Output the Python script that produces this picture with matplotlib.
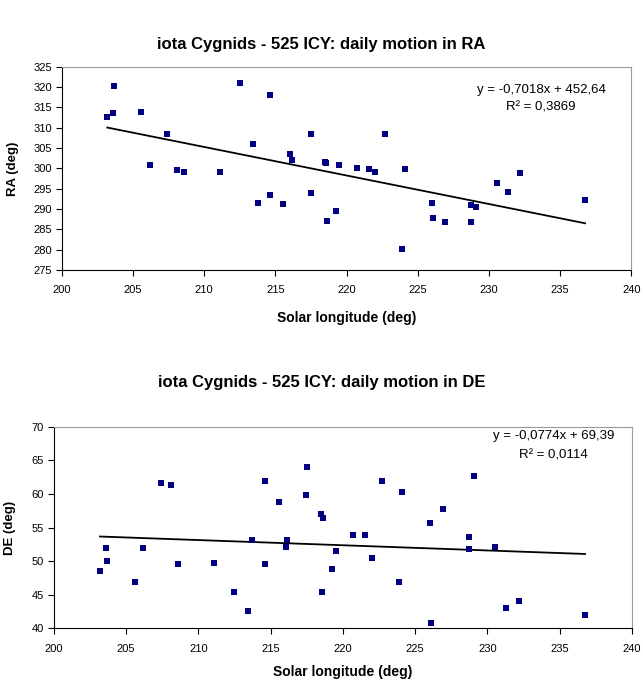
import matplotlib
matplotlib.use('Agg')
import matplotlib.pyplot as plt

plt.rcParams['font.family'] = ['Liberation Sans', 'DejaVu Sans']

# solar longitude of each meteor (deg)
sol_lon = [203.2, 203.6, 203.7, 205.6, 206.2, 207.4, 208.1, 208.6, 211.1, 212.5,
           213.45, 213.75, 214.6, 214.65, 215.55, 216.05, 216.15, 217.47, 217.52, 218.52,
           218.55, 218.6, 219.25, 219.5, 220.7, 221.55, 222.0, 222.7, 223.9, 224.08,
           226.0, 226.1, 226.9, 228.72, 228.72, 229.07, 230.55, 231.3, 232.2, 236.75]

# radiant right ascension (deg)
ra = [312.7, 313.5, 320.3, 313.8, 300.8, 308.4, 299.5, 299.2, 299.2, 321.1,
      306.0, 291.4, 318.0, 293.5, 291.2, 303.5, 302.0, 308.4, 294.0, 301.6,
      301.4, 287.0, 289.5, 300.8, 300.2, 299.8, 299.2, 308.4, 280.1, 299.8,
      291.6, 287.9, 286.7, 291.1, 286.7, 290.5, 296.5, 294.3, 298.9, 292.2]

# radiant declination (deg)
de = [48.5, 52.0, 50.0, 46.9, 52.0, 61.6, 61.4, 49.5, 49.7, 45.4,
      42.6, 53.1, 61.9, 49.5, 58.8, 52.1, 53.1, 59.8, 64.0, 57.0,
      45.4, 56.4, 48.9, 51.5, 53.9, 53.9, 50.5, 61.9, 46.9, 60.3,
      55.7, 40.8, 57.8, 53.6, 51.8, 62.7, 52.05, 43.0, 44.0, 42.0]

# linear trend fits: slope, intercept, R^2
fit_ra = [-0.7018, 452.64, 0.3869]
fit_de = [-0.0774, 69.39, 0.0114]

x_ticks = list(range(200, 241, 5))
ra_ticks = list(range(275, 326, 5))
de_ticks = list(range(40, 71, 5))


def fmt(v, nd):
    return f'{v:.{nd}f}'.replace('.', ',')


def style_axes(ax):
    for side in ['top', 'right']:
        ax.spines[side].set_color('#9a9a9a')
    for side in ['left', 'bottom']:
        ax.spines[side].set_color('black')
    for s in ax.spines.values():
        s.set_linewidth(0.8)
    ax.tick_params(direction='out', length=4, width=0.8, labelsize=8)
    ax.tick_params(axis='x', pad=7)
    ax.tick_params(axis='y', pad=3)


def draw_panel(ax, y, fit, yticks, ylabel, eq_x, eq_y, ylab_x, xlab_y):
    ax.scatter(sol_lon, y, marker='s', s=20, color='#000080', linewidths=0, zorder=3)
    x0, x1 = min(sol_lon), max(sol_lon)
    ax.plot([x0, x1], [fit[0] * x0 + fit[1], fit[0] * x1 + fit[1]], color='black', lw=1.3, zorder=2)
    ax.set_xlim(200, 240)
    ax.set_ylim(yticks[0], yticks[-1])
    ax.set_xticks(x_ticks)
    ax.set_yticks(yticks)
    ax.set_xlabel('Solar longitude (deg)', fontsize=10, fontweight='bold', va='center')
    ax.set_ylabel(ylabel, fontsize=9.5, fontweight='bold', va='center')
    ax.xaxis.set_label_coords(0.5, xlab_y)
    ax.yaxis.set_label_coords(ylab_x, 0.5)
    ax.text(eq_x, eq_y[0], f'y = {fmt(fit[0], 4)}x + {fmt(fit[1], 2)}', transform=ax.transAxes,
            ha='center', va='center', fontsize=9.5)
    ax.text(eq_x, eq_y[1], f'R² = {fmt(fit[2], 4)}', transform=ax.transAxes,
            ha='center', va='center', fontsize=9.5)
    style_axes(ax)


fig = plt.figure(figsize=(6.43, 6.82), dpi=100)

ax1 = fig.add_axes([0.096, 0.6041, 0.886, 0.2981])
draw_panel(ax1, ra, fit_ra, ra_ticks, 'RA (deg)', 0.8415, (0.885, 0.797), -0.086, -0.236)
fig.text(0.5, 1 - 45 / 682, 'iota Cygnids - 525 ICY: daily motion in RA',
         ha='center', va='center', fontsize=12, fontweight='bold')

ax2 = fig.add_axes([0.0835, 0.0787, 0.8994, 0.2956])
draw_panel(ax2, de, fit_de, de_ticks, 'DE (deg)', 0.8646, (0.955, 0.855), -0.076, -0.217)
fig.text(0.5, 1 - 383 / 682, 'iota Cygnids - 525 ICY: daily motion in DE',
         ha='center', va='center', fontsize=12, fontweight='bold')

fig.savefig('out.png', dpi=100, facecolor='white')
